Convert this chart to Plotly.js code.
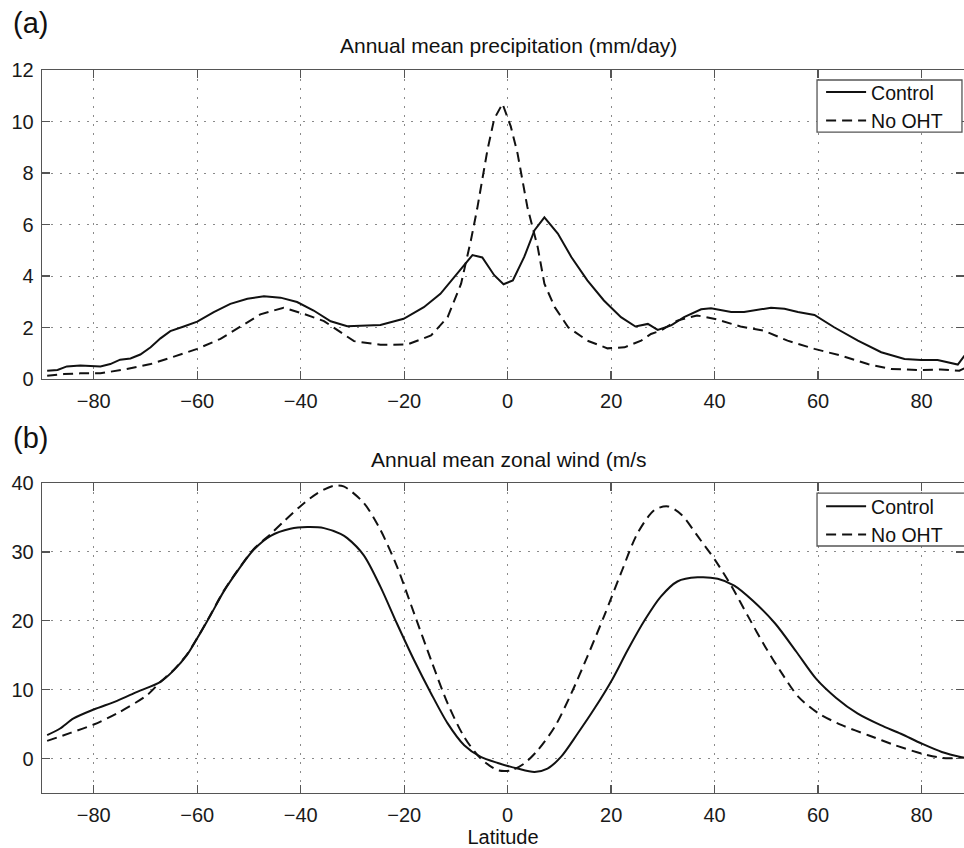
<!DOCTYPE html>
<html>
<head>
<meta charset="utf-8">
<script src="https://cdn.plot.ly/plotly-3.0.1.min.js"></script>
<style>html,body{margin:0;padding:0;background:#fff;}#chart{width:964px;height:848px;}</style>
</head>
<body>
<div id="chart"></div>
<script>
// ---- Panel (a): Annual mean precipitation (mm/day) ----
var precipControlLat = [-89, -87, -85.2, -82.6, -78.7, -76.8, -74.9, -72.9, -71, -69, -67.1, -65.2, -62.6, -60, -56.8, -53.6, -50.3, -47.1, -43.9, -40.7, -37.5, -34.2, -31, -28, -24.6, -20.1, -16.2, -13, -9.7, -6.8, -4.9, -2.6, -0.8, 1, 3.2, 5.2, 7.1, 9.7, 12.3, 15.4, 18.6, 21.9, 24.7, 27.1, 29, 31.6, 34.1, 37.4, 39.3, 43.2, 45.7, 50.9, 53.5, 56.1, 59.3, 63.1, 67.7, 72.2, 76.7, 79.9, 83.1, 87, 88.3];
var precipControl = [0.32, 0.35, 0.49, 0.52, 0.49, 0.58, 0.75, 0.8, 0.95, 1.23, 1.58, 1.86, 2.04, 2.23, 2.6, 2.92, 3.12, 3.21, 3.16, 2.99, 2.66, 2.24, 2.05, 2.07, 2.1, 2.34, 2.79, 3.31, 4.09, 4.81, 4.72, 4.03, 3.68, 3.83, 4.74, 5.78, 6.28, 5.65, 4.74, 3.83, 3.05, 2.4, 2.04, 2.14, 1.91, 2.08, 2.4, 2.71, 2.75, 2.6, 2.6, 2.77, 2.73, 2.6, 2.49, 2.01, 1.49, 1.04, 0.78, 0.74, 0.74, 0.56, 0.91];

var precipNoOHTLat = [-89, -85.8, -82.6, -78.7, -73.6, -69, -64.5, -60, -55.5, -51.6, -47.8, -43.3, -39.4, -35.5, -32.3, -29.7, -24.6, -19.4, -14.8, -11.6, -9, -7.1, -5.9, -3.9, -2.6, -1, 0.6, 1.9, 3.8, 5.8, 7.1, 9.1, 11.7, 15.4, 19.3, 22.6, 25.8, 27.7, 29.6, 32.8, 36.6, 40.5, 45, 49.5, 54.1, 59.3, 64.4, 69.6, 74.1, 79.3, 83.7, 87.3, 88.3];
var precipNoOHT = [0.13, 0.19, 0.22, 0.22, 0.39, 0.58, 0.87, 1.17, 1.56, 2.04, 2.51, 2.77, 2.53, 2.25, 1.8, 1.47, 1.33, 1.34, 1.69, 2.4, 3.7, 5.39, 6.6, 8.9, 10.1, 10.69, 9.81, 8.77, 6.69, 5.13, 3.7, 2.79, 2.01, 1.49, 1.19, 1.23, 1.49, 1.75, 1.88, 2.27, 2.47, 2.31, 2.04, 1.88, 1.49, 1.17, 0.91, 0.58, 0.39, 0.35, 0.37, 0.32, 0.42];

// ---- Panel (b): Annual mean zonal wind (m/s) ----
var windControlLat = [-89, -86.5, -83.9, -80, -75.5, -71.6, -67.1, -64.5, -62, -60, -57.4, -54.9, -52.3, -49.1, -45.8, -42, -38.7, -35.5, -32.3, -31, -27.8, -24.6, -21.4, -18.1, -14.8, -11.6, -8.4, -5.2, -1.9, 1.9, 5.2, 7.7, 10.3, 13.5, 16.9, 20.3, 23.2, 26.5, 29.6, 32.8, 36.7, 40.6, 43.8, 47.4, 51.7, 55.8, 59.6, 63.5, 67.6, 72.1, 76, 80, 83.9, 88.2];
var windControl = [3.39, 4.36, 5.82, 7.12, 8.38, 9.69, 11.14, 12.84, 15.0, 17.45, 20.84, 24.23, 27.14, 30.3, 32.33, 33.35, 33.6, 33.45, 32.6, 32.0, 29.5, 24.96, 19.6, 14.3, 9.45, 5.1, 1.93, 0.24, -0.64, -1.45, -1.94, -1.45, 0.24, 3.6, 7.4, 11.6, 15.75, 20.1, 23.5, 25.7, 26.3, 26.1, 25.1, 22.9, 19.6, 15.5, 11.6, 8.8, 6.55, 4.84, 3.6, 2.18, 0.96, 0.1];

var windNoOHTLat = [-89, -84.5, -80, -75.5, -69.7, -67.1, -64.5, -62, -60, -57.4, -54.9, -52.3, -49.1, -45.8, -43.3, -40.1, -36.8, -33.6, -31.7, -27.8, -24.6, -21.4, -18.1, -14.8, -11.6, -8.4, -5.2, -1.9, 0.7, 3.2, 5.8, 9.1, 12.3, 15.4, 18.6, 21.9, 25.1, 28.4, 31, 33.6, 36.8, 40.1, 43.3, 46.5, 49.8, 53, 56.2, 60.1, 64.6, 69.7, 74.9, 80, 83.9, 88.2];
var windNoOHT = [2.56, 3.72, 4.94, 6.55, 9.2, 11.14, 12.9, 15.1, 17.5, 20.9, 24.3, 27.2, 30.4, 32.6, 34.4, 36.6, 38.5, 39.6, 39.5, 37.1, 33.2, 27.9, 21.1, 14.3, 8.0, 3.14, 0, -1.7, -1.7, -0.73, 1.2, 4.6, 9.45, 14.8, 20.6, 26.9, 32.7, 36.1, 36.6, 35.4, 32.2, 28.8, 24.96, 20.6, 16.2, 12.36, 8.96, 6.55, 4.84, 3.39, 1.93, 0.73, 0.1, 0.1];

var latTicks = [-80, -60, -40, -20, 0, 20, 40, 60, 80];
var precipTicks = [0, 2, 4, 6, 8, 10, 12];
var windTicks = [0, 10, 20, 30, 40];
var seriesNames = ['Control', 'No OHT'];

var FONT = 'Liberation Sans, Arial, Helvetica, sans-serif';
var solid = {color: '#111', width: 2, dash: 'solid'};
var dashed = {color: '#111', width: 2, dash: '10px,6px'};

var traces = [
  {x: precipControlLat, y: precipControl, name: seriesNames[0], mode: 'lines', line: solid, xaxis: 'x', yaxis: 'y', legend: 'legend'},
  {x: precipNoOHTLat, y: precipNoOHT, name: seriesNames[1], mode: 'lines', line: dashed, xaxis: 'x', yaxis: 'y', legend: 'legend'},
  {x: windControlLat, y: windControl, name: seriesNames[0], mode: 'lines', line: Object.assign({shape: 'spline', smoothing: 0.8}, solid), xaxis: 'x2', yaxis: 'y2', legend: 'legend2'},
  {x: windNoOHTLat, y: windNoOHT, name: seriesNames[1], mode: 'lines', line: Object.assign({shape: 'spline', smoothing: 0.8}, dashed), xaxis: 'x2', yaxis: 'y2', legend: 'legend2'}
];

var axisCommon = {
  showline: true, linecolor: '#555', linewidth: 1.3, mirror: 'ticks',
  ticks: 'inside', ticklen: 8, tickcolor: '#555', tickwidth: 1.3,
  showgrid: true, gridcolor: '#8a8a8a', griddash: '2px,7px', gridwidth: 1,
  zeroline: false, tickfont: {family: FONT, size: 20, color: '#1a1a1a'}
};

var legendCommon = {
  xanchor: 'left', yanchor: 'top', x: 0.845, itemwidth: 40,
  bgcolor: 'rgba(0,0,0,0)', borderwidth: 0,
  font: {family: FONT, size: 19.5, color: '#111'}, tracegroupgap: 0
};

var boxStyle = {type: 'rect', xref: 'paper', yref: 'paper', layer: 'above', fillcolor: '#fff', line: {color: '#555', width: 1.3}};

var layout = {
  width: 964, height: 848,
  margin: {l: 42, r: 0, t: 70, b: 55},
  paper_bgcolor: '#fff', plot_bgcolor: '#fff',
  font: {family: FONT, color: '#111'},
  xaxis: Object.assign({}, axisCommon, {domain: [0, 1], range: [-90, 88.2], tickvals: latTicks, anchor: 'y', ticklabelstandoff: 4}),
  yaxis: Object.assign({}, axisCommon, {domain: [0.5726, 1], range: [0, 12], tickvals: precipTicks, anchor: 'x', ticklabelstandoff: 3}),
  xaxis2: Object.assign({}, axisCommon, {domain: [0, 1], range: [-90, 88.2], tickvals: latTicks, anchor: 'y2', ticklabelstandoff: 4,
    title: {text: 'Latitude', font: {family: FONT, size: 20, color: '#111'}, standoff: 4}}),
  yaxis2: Object.assign({}, axisCommon, {domain: [0, 0.4288], range: [-5, 40], tickvals: windTicks, anchor: 'x2', ticklabelstandoff: 3}),
  legend: Object.assign({}, legendCommon, {y: 0.996}),
  legend2: Object.assign({}, legendCommon, {y: 0.4232}),
  shapes: [
    Object.assign({}, boxStyle, {x0: 0.8406, x1: 0.9978, y0: 0.9142, y1: 0.9862}),
    Object.assign({}, boxStyle, {x0: 0.8406, x1: 1.002, y0: 0.3416, y1: 0.4149})
  ],
  annotations: [
    {text: '(a)', xref: 'paper', yref: 'paper', x: -0.0335, y: 1.065, xanchor: 'left', yanchor: 'middle', showarrow: false, font: {family: FONT, size: 29, color: '#111'}},
    {text: 'Annual mean precipitation (mm/day)', xref: 'paper', yref: 'paper', x: 0.5065, y: 1.0332, xanchor: 'center', yanchor: 'middle', showarrow: false, font: {family: FONT, size: 21, color: '#111'}},
    {text: '(b)', xref: 'paper', yref: 'paper', x: -0.0335, y: 0.491, xanchor: 'left', yanchor: 'middle', showarrow: false, font: {family: FONT, size: 29, color: '#111'}},
    {text: 'Annual mean zonal wind (m/s', xref: 'paper', yref: 'paper', x: 0.5065, y: 0.4606, xanchor: 'center', yanchor: 'middle', showarrow: false, font: {family: FONT, size: 21, color: '#111'}}
  ],
  showlegend: true
};

Plotly.newPlot('chart', traces, layout, {displayModeBar: false, staticPlot: true});
</script>
</body>
</html>
